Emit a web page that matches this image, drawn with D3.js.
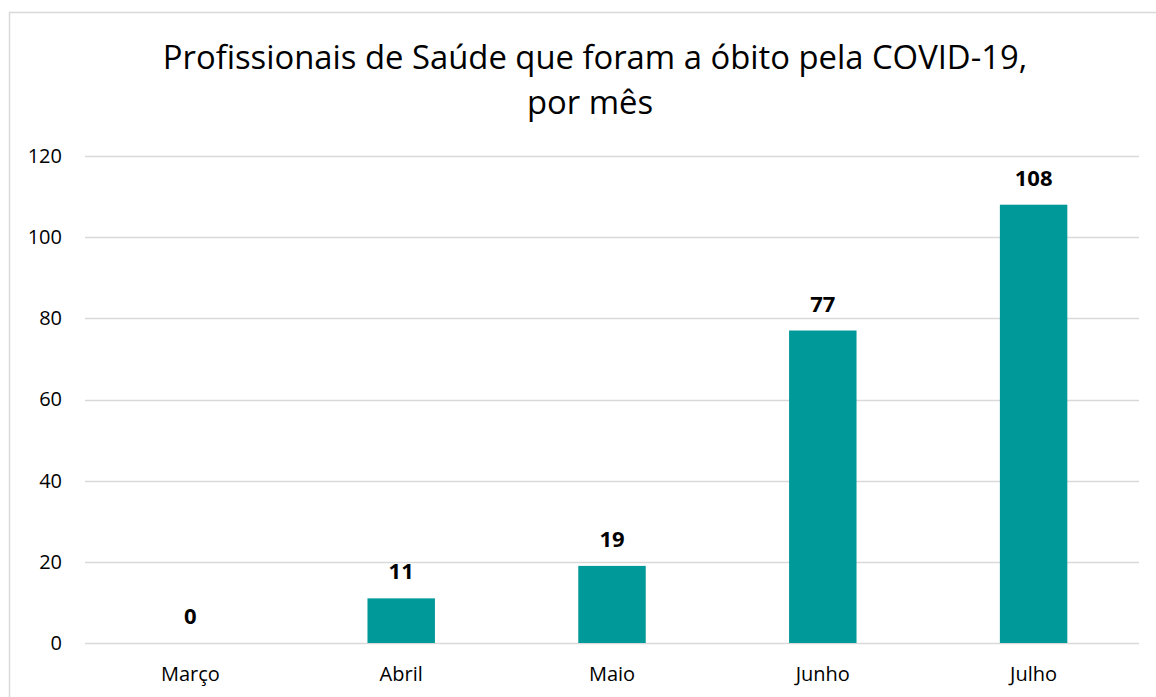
<!DOCTYPE html>
<html>
<head>
<meta charset="utf-8">
<script src="https://cdnjs.cloudflare.com/ajax/libs/d3/7.8.5/d3.min.js"></script>
<style>
  body { margin: 0; background: #fff; }
  text { font-family: "Open Sans", "Noto Sans", sans-serif; fill: #000; }
</style>
</head>
<body>
<svg id="chart" width="1156" height="697"></svg>
<script>
// data
var meses = ["Março", "Abril", "Maio", "Junho", "Julho"];
var obitos = [0, 11, 19, 77, 108];
var yTicks = [0, 20, 40, 60, 80, 100, 120];
var tituloLinhas = ["Profissionais de Saúde que foram a óbito pela COVID-19,", "por mês"];

var svg = d3.select("#chart");

// outer chart border (right/bottom edges fall outside the picture)
svg.append("rect")
    .attr("x", 9.5).attr("y", 12.5)
    .attr("width", 1200).attr("height", 700)
    .attr("fill", "#fff")
    .attr("stroke", "#d9d9d9").attr("stroke-width", 1.5);

var plotLeft = 85, plotRight = 1139, plotTop = 156, plotBottom = 643;

var x = d3.scaleBand()
    .domain(meses)
    .range([plotLeft, plotRight])
    .paddingInner(0.68)
    .paddingOuter(0.34);

var y = d3.scaleLinear()
    .domain([0, 120])
    .range([plotBottom, plotTop]);

// gridlines
svg.append("g")
    .selectAll("line")
    .data(yTicks)
    .enter().append("line")
    .attr("x1", plotLeft).attr("x2", plotRight)
    .attr("y1", function(d) { return Math.round(y(d)) + 0.5; })
    .attr("y2", function(d) { return Math.round(y(d)) + 0.5; })
    .attr("stroke", "#d9d9d9").attr("stroke-width", 1.5);

// y axis labels
var yAxis = svg.append("g")
    .attr("transform", "translate(" + (plotLeft - 23) + ",0)")
    .call(d3.axisLeft(y).tickValues(yTicks).tickSize(0).tickPadding(0));
yAxis.select(".domain").remove();
yAxis.selectAll("text")
    .style("font-size", "20px")
    .style("font-family", "'Open Sans', sans-serif")
    .attr("fill", "#000");

// bars
svg.append("g")
    .selectAll("rect")
    .data(obitos)
    .enter().append("rect")
    .attr("x", function(d, i) { return x(meses[i]); })
    .attr("width", x.bandwidth())
    .attr("y", function(d) { return y(d); })
    .attr("height", function(d) { return y(0) - y(d); })
    .attr("fill", "#009999");

// value labels
svg.append("g")
    .selectAll("text")
    .data(obitos)
    .enter().append("text")
    .attr("x", function(d, i) { return x(meses[i]) + x.bandwidth() / 2; })
    .attr("y", function(d) { return y(d) - 19; })
    .attr("text-anchor", "middle")
    .style("font-size", "22px")
    .style("font-weight", "bold")
    .text(function(d) { return d; });

// x axis labels
var xAxis = svg.append("g")
    .attr("transform", "translate(0," + (plotBottom + 24) + ")")
    .call(d3.axisBottom(x).tickSize(0).tickPadding(0));
xAxis.select(".domain").remove();
xAxis.selectAll("text")
    .style("font-size", "20px")
    .style("font-family", "'Open Sans', sans-serif")
    .attr("fill", "#000");

// title
var tituloX = [595, 590];
var titulo = svg.append("text")
    .attr("text-anchor", "middle")
    .style("font-size", "28px");
titulo.selectAll("tspan")
    .data(tituloLinhas)
    .enter().append("tspan")
    .attr("x", function(d, i) { return tituloX[i]; })
    .attr("y", function(d, i) { return 69 + i * 45; })
    .text(function(d) { return d; });
// fit first line to reference width
var w = titulo.select("tspan").node().getComputedTextLength();
titulo.style("font-size", (28 * 865 / w).toFixed(1) + "px");
</script>
</body>
</html>
